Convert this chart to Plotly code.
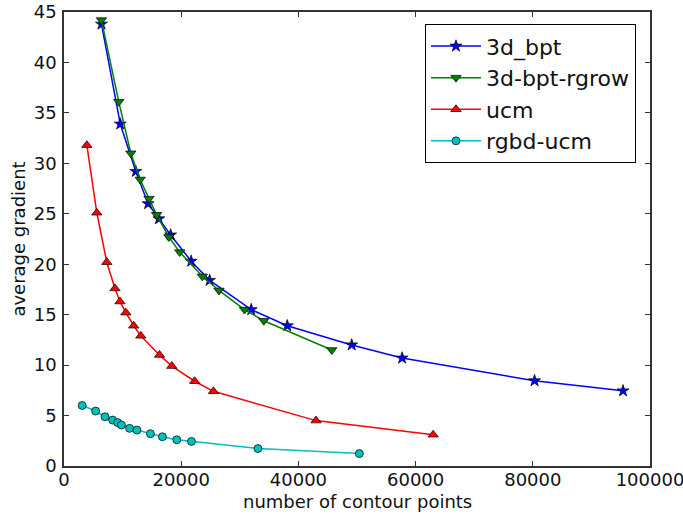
import plotly.graph_objects as go

bpt_x = [6400, 9600, 12250, 14350, 16200, 18200, 21700, 24850, 31950, 38100, 49100, 57700, 80300, 95400]
bpt_y = [43.8, 33.9, 29.2, 26.0, 24.5, 22.9, 20.3, 18.4, 15.5, 13.9, 12.0, 10.7, 8.45, 7.45]

rgrow_x = [6400, 9350, 11400, 13000, 14500, 15800, 17900, 19750, 23600, 26450, 30800, 34100, 45700]
rgrow_y = [44.2, 36.1, 31.0, 28.4, 26.5, 24.9, 22.7, 21.2, 18.8, 17.4, 15.5, 14.4, 11.5]

ucm_x = [3900, 5600, 7300, 8700, 9550, 10550, 11900, 13100, 16300, 18400, 22300, 25500, 43000, 63000]
ucm_y = [31.8, 25.1, 20.2, 17.6, 16.3, 15.2, 13.9, 12.9, 11.0, 9.9, 8.4, 7.4, 4.5, 3.1]

rgbd_x = [3100, 5400, 7000, 8300, 9150, 9800, 11200, 12450, 14750, 16800, 19250, 21750, 33100, 50400]
rgbd_y = [6.0, 5.45, 4.88, 4.55, 4.3, 4.06, 3.73, 3.56, 3.2, 2.9, 2.6, 2.44, 1.73, 1.23]

x_ticks = [0, 20000, 40000, 60000, 80000, 100000]
y_ticks = [0, 5, 10, 15, 20, 25, 30, 35, 40, 45]

x_title = "number of contour points"
y_title = "average gradient"

FONT = "DejaVu Sans"

fig = go.Figure()
series = [
    ("3d_bpt", bpt_x, bpt_y, "#0000ff", "star", 9),
    ("3d-bpt-rgrow", rgrow_x, rgrow_y, "#008000", "triangle-down", 9),
    ("ucm", ucm_x, ucm_y, "#ff0000", "triangle-up", 9),
    ("rgbd-ucm", rgbd_x, rgbd_y, "#00bfbf", "circle", 8),
]
for name, xs, ys, col, sym, sz in series:
    fig.add_trace(go.Scatter(
        x=xs, y=ys, name=name, mode="lines+markers",
        line=dict(color=col, width=1.5),
        marker=dict(symbol=sym, size=sz, color=col, line=dict(color="black", width=0.7)),
    ))

axis_common = dict(
    showgrid=False, zeroline=False, showline=True, linecolor="#333333", linewidth=1.5,
    mirror="ticks", ticks="inside", ticklen=5, tickwidth=1, tickcolor="#333333",
    tickfont=dict(family=FONT, size=18, color="#111111"),
    ticklabeloverflow="allow",
)

fig.update_layout(
    width=683, height=515,
    margin=dict(l=64, r=33, t=12, b=49),
    paper_bgcolor="white", plot_bgcolor="white",
    font=dict(family=FONT, color="#111111"),
    xaxis=dict(range=[0, 100000], tickvals=x_ticks, ticktext=[str(v) for v in x_ticks],
               automargin=False, ticklabelstandoff=-3,
               **axis_common),
    yaxis=dict(range=[0, 45], tickvals=y_ticks, ticktext=[str(v) for v in y_ticks],
               title=dict(text=y_title, font=dict(family=FONT, size=18), standoff=3),
               ticklabelstandoff=2, automargin="left",
               **axis_common),
    legend=dict(x=0.616, y=0.973, xanchor="left", yanchor="top",
                bordercolor="black", borderwidth=1, bgcolor="white",
                font=dict(family=FONT, size=22), tracegroupgap=0, itemwidth=50),
    showlegend=True,
)
fig.add_annotation(text=x_title, xref="paper", yref="paper", x=0.5, y=-0.078,
                   xanchor="center", yanchor="middle", showarrow=False,
                   font=dict(family=FONT, size=18, color="#111111"))

fig.write_html("out.html", config={"displayModeBar": False},
               post_script="document.body.style.margin='0';document.body.style.padding='0';")
